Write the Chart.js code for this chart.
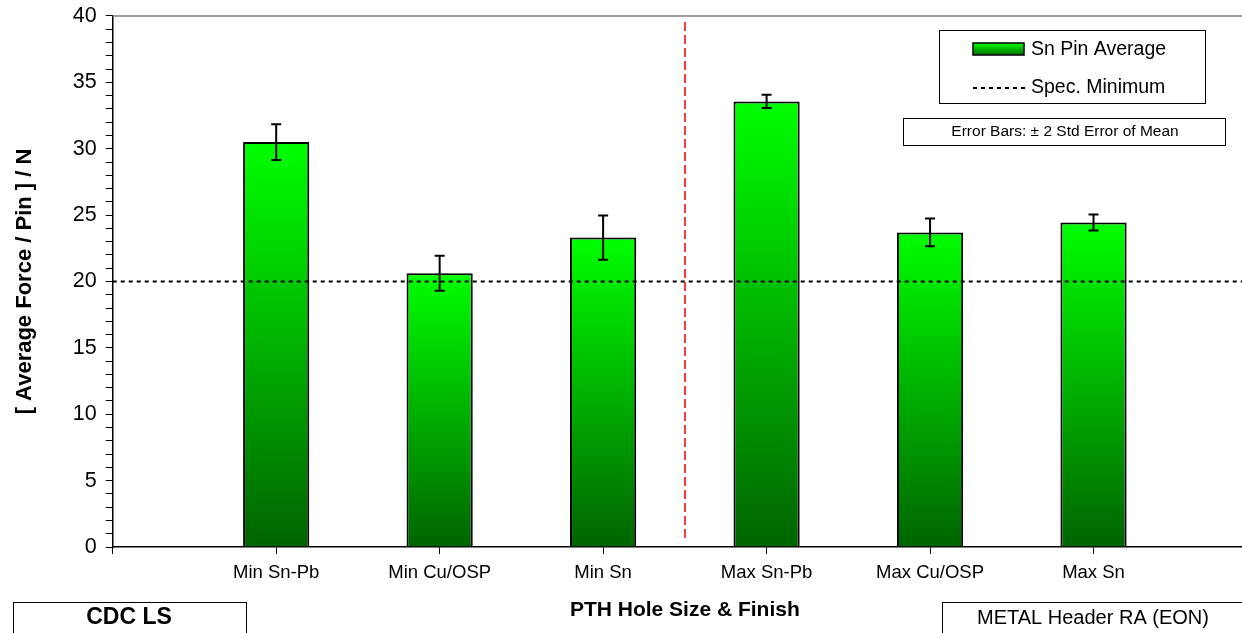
<!DOCTYPE html>
<html>
<head>
<meta charset="utf-8">
<title>Pin Force by PTH Hole Size &amp; Finish</title>
<script src="https://cdn.jsdelivr.net/npm/chart.js@4/dist/chart.umd.min.js"></script>
<style>
  html, body { margin: 0; padding: 0; background: #fff; overflow: hidden; }
  #wrap { position: relative; width: 1242px; height: 633px; overflow: hidden; }
  #chart { position: absolute; left: 0; top: 0; }
</style>
</head>
<body>
<div id="wrap"><canvas id="chart" width="1265" height="633"></canvas></div>
<script>
// empty slots at both ends keep the bars off the axes
const categories = ['', 'Min Sn-Pb', 'Min Cu/OSP', 'Min Sn', 'Max Sn-Pb', 'Max Cu/OSP', 'Max Sn', ''];
const pinAverage = [null, 30.5, 20.62, 23.31, 33.56, 23.7, 24.45, null];
const errorTwoSem = [null, 1.35, 1.32, 1.67, 0.5, 1.05, 0.6, null];
const specMinimum = [20, 20, 20, 20, 20, 20, 20, 20];
const yMin = 0;
const yMax = 40;
const yMajorStep = 5;
const yMinorStep = 1;
const groupDivider = 3.5; // between the Min and Max hole sizes

const FONT = "'Liberation Sans', Arial, Helvetica, sans-serif";
Chart.defaults.font.family = FONT;
Chart.defaults.color = '#000';

function barGradient(ctx) {
  const chart = ctx.chart;
  const y = chart.scales.y;
  if (!y || ctx.raw == null) return '#00ff00';
  const top = y.getPixelForValue(ctx.raw);
  const bottom = y.getPixelForValue(0);
  if (!isFinite(top) || !isFinite(bottom)) return '#00ff00';
  const g = chart.ctx.createLinearGradient(0, top, 0, bottom);
  g.addColorStop(0, '#00ff00');
  g.addColorStop(1, '#006400');
  return g;
}

// top frame line and the red divider between hole sizes
const framePlugin = {
  id: 'frame',
  beforeDatasetsDraw(chart) {
    const { ctx, chartArea, scales } = chart;
    ctx.save();
    ctx.strokeStyle = '#808080';
    ctx.lineWidth = 1.5;
    ctx.beginPath();
    ctx.moveTo(chartArea.left, chartArea.top);
    ctx.lineTo(chartArea.right, chartArea.top);
    ctx.stroke();

    const x = Math.round(scales.x.getPixelForValue(groupDivider));
    ctx.strokeStyle = '#ff3c3c';
    ctx.lineWidth = 2;
    ctx.setLineDash([9, 4]);
    ctx.beginPath();
    ctx.moveTo(x, chartArea.top + 6);
    ctx.lineTo(x, chartArea.bottom - 8);
    ctx.stroke();
    ctx.restore();
  }
};

const errorBarPlugin = {
  id: 'errorBars',
  afterDatasetsDraw(chart) {
    const { ctx, scales } = chart;
    const meta = chart.getDatasetMeta(0);
    ctx.save();
    ctx.strokeStyle = '#000';
    ctx.lineWidth = 2;
    pinAverage.forEach((v, i) => {
      if (v == null) return;
      const x = meta.data[i].x;
      const hi = scales.y.getPixelForValue(v + errorTwoSem[i]);
      const lo = scales.y.getPixelForValue(v - errorTwoSem[i]);
      ctx.beginPath();
      ctx.moveTo(x, hi); ctx.lineTo(x, lo);
      ctx.moveTo(x - 5, hi); ctx.lineTo(x + 5, hi);
      ctx.moveTo(x - 5, lo); ctx.lineTo(x + 5, lo);
      ctx.stroke();
    });
    ctx.restore();
  }
};

// legend box, error note and the two corner labels
const notesPlugin = {
  id: 'notes',
  afterDraw(chart) {
    const ctx = chart.ctx;
    ctx.save();
    ctx.strokeStyle = '#000';
    ctx.lineWidth = 1;
    ctx.fillStyle = '#fff';

    ctx.fillRect(939, 30, 266, 73);
    ctx.strokeRect(939.5, 30.5, 266, 73);

    const sw = ctx.createLinearGradient(0, 43, 0, 56);
    sw.addColorStop(0, '#00ff00');
    sw.addColorStop(1, '#006400');
    ctx.fillStyle = sw;
    ctx.fillRect(973, 43, 51, 12);
    ctx.lineWidth = 1.5;
    ctx.strokeRect(973, 43, 51, 12);

    ctx.lineWidth = 2;
    ctx.setLineDash([4, 4]);
    ctx.beginPath();
    ctx.moveTo(973, 88);
    ctx.lineTo(1029, 88);
    ctx.stroke();
    ctx.setLineDash([]);

    ctx.fillStyle = '#000';
    ctx.textBaseline = 'middle';
    ctx.textAlign = 'left';
    ctx.font = '19.5px ' + FONT;
    ctx.fillText('Sn Pin Average', 1031, 50);
    ctx.fillText('Spec. Minimum', 1031, 88);

    ctx.lineWidth = 1;
    ctx.fillStyle = '#fff';
    ctx.fillRect(903, 118, 322, 27);
    ctx.strokeRect(903.5, 118.5, 322, 27);
    ctx.fillStyle = '#000';
    ctx.textAlign = 'center';
    ctx.font = '15.5px ' + FONT;
    ctx.fillText('Error Bars: \u00b1 2 Std Error of Mean', 1065, 132);

    ctx.strokeRect(13.5, 602.5, 233, 50);
    ctx.font = 'bold 23px ' + FONT;
    ctx.fillText('CDC LS', 129, 618);

    ctx.strokeRect(942.5, 602.5, 330, 50);
    ctx.font = '20px ' + FONT;
    ctx.fillText('METAL Header RA (EON)', 1093, 618);
    ctx.restore();
  }
};

new Chart(document.getElementById('chart'), {
  data: {
    labels: categories,
    datasets: [
      {
        type: 'bar',
        label: 'Sn Pin Average',
        data: pinAverage,
        backgroundColor: barGradient,
        borderColor: '#000',
        borderWidth: 2,
        borderSkipped: 'start',
        categoryPercentage: 1,
        barPercentage: 0.405,
        order: 2
      },
      {
        type: 'line',
        label: 'Spec. Minimum',
        data: specMinimum,
        borderColor: '#000',
        borderWidth: 2,
        borderDash: [4, 4],
        pointRadius: 0,
        fill: false,
        order: 1
      }
    ]
  },
  options: {
    responsive: false,
    animation: false,
    layout: { padding: { left: 10, right: 6, top: 7, bottom: 10.6 } },
    plugins: {
      legend: { display: false },
      tooltip: { enabled: false }
    },
    scales: {
      x: {
        type: 'category',
        offset: false,
        grid: {
          offset: false,
          drawOnChartArea: false,
          color: '#000',
          lineWidth: 1,
          tickLength: 7
        },
        border: { color: '#000', width: 1.5 },
        ticks: {
          autoSkip: false,
          maxRotation: 0,
          padding: 8,
          font: { size: 18.5 },
          color: '#000'
        },
        title: {
          display: true,
          text: 'PTH Hole Size & Finish',
          font: { size: 21, weight: 'bold' },
          color: '#000',
          padding: { top: 5, bottom: 0 }
        }
      },
      y: {
        min: yMin,
        max: yMax,
        grid: {
          drawOnChartArea: false,
          color: '#000',
          lineWidth: 1,
          tickLength: 7
        },
        border: { color: '#000', width: 1.5 },
        ticks: {
          stepSize: yMinorStep,
          autoSkip: false,
          padding: 9,
          font: { size: 21.5, lineHeight: 0.65 },
          color: '#000',
          callback: v => (v % yMajorStep === 0 ? v : '')
        },
        title: {
          display: true,
          text: '[ Average Force / Pin ] / N',
          font: { size: 22, weight: 'bold' },
          color: '#000',
          padding: { top: 1.4, bottom: 26 }
        }
      }
    }
  },
  plugins: [framePlugin, errorBarPlugin, notesPlugin]
});
</script>
</body>
</html>
